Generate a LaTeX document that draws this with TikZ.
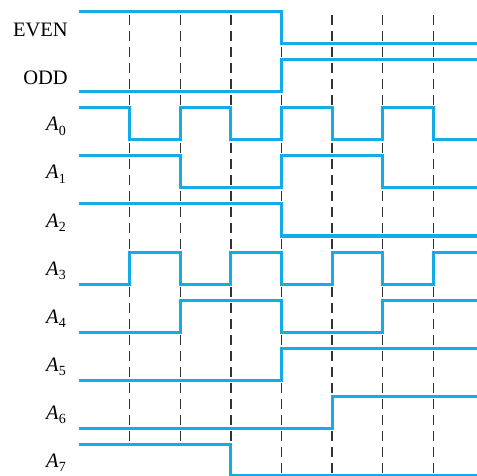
\documentclass[tikz,border=0pt]{standalone}
\usepackage{fontspec}
\setmainfont{Liberation Serif}
\definecolor{sig}{RGB}{20,172,230}
\definecolor{grid}{RGB}{50,50,50}
\tikzset{
  wave/.style={draw=sig, line width=3pt, line join=miter},
  gridline/.style={draw=grid, line width=1.4pt, dash pattern=on 10pt off 6pt},
  lbl/.style={anchor=base east, inner sep=0pt, font=\fontsize{20.5}{22}\selectfont},
}
\newcommand\Asub[1]{\textit{A}\raisebox{-4.5pt}{\fontsize{14}{14}\selectfont #1}}
\begin{document}
\begin{tikzpicture}[x=1pt,y=-1pt]
\useasboundingbox (0,0) rectangle (477,476);
% dashed time markers
\foreach \x in {129.6,180.2} \draw[gridline] (\x,15) -- (\x,444);
\foreach \x in {230.8,281.4,332,382.6,433.2} \draw[gridline] (\x,15) -- (\x,476);
% waveforms
\draw[wave] (79,12) -| (281.4,44) -- (477,44);
\draw[wave] (79,92) -| (281.4,60) -- (477,60);
\draw[wave] (79,108) -| (129.6,140) -| (180.2,108) -| (230.8,140) -| (281.4,108) -| (332,140) -| (382.6,108) -| (433.2,140) -- (477,140);
\draw[wave] (79,156) -| (180.2,188) -| (281.4,156) -| (382.6,188) -- (477,188);
\draw[wave] (79,204) -| (281.4,236) -- (477,236);
\draw[wave] (79,284) -| (129.6,252) -| (180.2,284) -| (230.8,252) -| (281.4,284) -| (332,252) -| (382.6,284) -| (433.2,252) -- (477,252);
\draw[wave] (79,332) -| (180.2,300) -| (281.4,332) -| (382.6,300) -- (477,300);
\draw[wave] (79,380) -| (281.4,348) -- (477,348);
\draw[wave] (79,428) -| (332,396) -- (477,396);
\draw[wave] (79,444) -| (230.8,475) -- (477,475);
% labels
\node[lbl] (even) at (68,37) {EVEN};
\node[lbl] (odd) at (68,85) {ODD};
\node[lbl] (a0) at (66,131) {\Asub{0}};
\node[lbl] (a1) at (66,179) {\Asub{1}};
\node[lbl] (a2) at (66,227) {\Asub{2}};
\node[lbl] (a3) at (66,275) {\Asub{3}};
\node[lbl] (a4) at (66,323) {\Asub{4}};
\node[lbl] (a5) at (66,371) {\Asub{5}};
\node[lbl] (a6) at (66,419) {\Asub{6}};
\node[lbl] (a7) at (66,467) {\Asub{7}};
\end{tikzpicture}
\end{document}
